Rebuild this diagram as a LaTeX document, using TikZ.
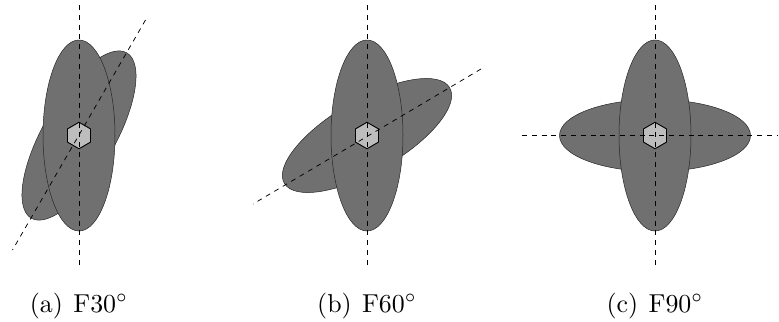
\documentclass[tikz,border=0pt]{standalone}
\usetikzlibrary{shapes.geometric}
\definecolor{petal}{gray}{0.44}
\definecolor{hub}{gray}{0.74}
\tikzset{
  petalshape/.style={draw=black!85,line width=0.5bp,fill=petal,ellipse,inner sep=0pt,minimum width=72bp,minimum height=191bp},
  hubshape/.style={draw=black,line width=0.9bp,fill=hub,regular polygon,regular polygon sides=6,shape border rotate=90,inner sep=0pt,minimum size=26.5bp},
  axisline/.style={black,line width=0.75bp,dash pattern=on 5bp off 4.8bp},
  caplabel/.style={inner sep=0pt,anchor=base,scale=2.6}
}
\newcommand{\capgap}{\hspace{0.4em}}
\begin{document}
\begin{tikzpicture}[x=1bp,y=-1bp]
\useasboundingbox (0,0) rectangle (779,321);
% (a)
\node[petalshape,rotate=-30] (atilt) at (79,135.5) {};
\node[petalshape] (aup) at (79,135.5) {};
\node[hubshape] (ahub) at (79,135.5) {};
\coordinate (at) at (79,5);
\coordinate (ab) at (79,268);
\coordinate (ap) at (145.5,20);
\coordinate (aq) at (12.5,250);
\draw[axisline] (at) -- (ab);
\draw[axisline] (ap) -- (aq);
\node[caplabel] (acap) at (79,312) {(a)\capgap F30$^\circ$};
% (b)
\node[petalshape,rotate=-60] (btilt) at (367,135.5) {};
\node[petalshape] (bup) at (367,135.5) {};
\node[hubshape] (bhub) at (367,135.5) {};
\coordinate (bt) at (367,5);
\coordinate (bb) at (367,268);
\coordinate (bp) at (481,69);
\coordinate (bq) at (253,204);
\draw[axisline] (bt) -- (bb);
\draw[axisline] (bp) -- (bq);
\node[caplabel] (bcap) at (367,312) {(b)\capgap F60$^\circ$};
% (c)
\node[petalshape,rotate=90] (ctilt) at (655,135.5) {};
\node[petalshape] (cup) at (655,135.5) {};
\node[hubshape] (chub) at (655,135.5) {};
\coordinate (ct) at (655,5);
\coordinate (cb) at (655,268);
\coordinate (cl) at (522,135.5);
\coordinate (cr) at (778,135.5);
\draw[axisline] (ct) -- (cb);
\draw[axisline] (cl) -- (cr);
\node[caplabel] (ccap) at (655,312) {(c)\capgap F90$^\circ$};
\end{tikzpicture}
\end{document}
